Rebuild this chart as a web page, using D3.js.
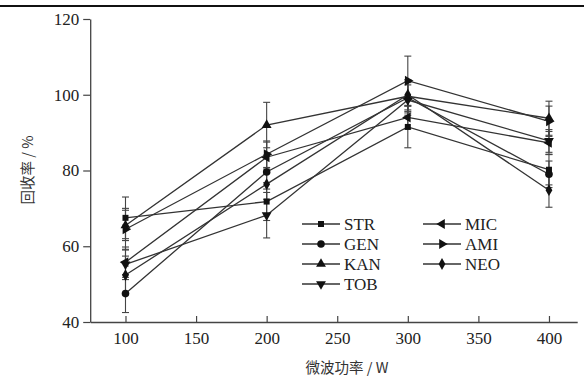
<!DOCTYPE html>
<html>
<head>
<meta charset="utf-8">
<script src="https://cdn.jsdelivr.net/npm/d3@7"></script>
<style>
  body { margin: 0; background: #fff; }
</style>
</head>
<body>
<div id="chart"></div>
<script>
// potência de micro-ondas (eixo x)
var powers = [100, 200, 300, 400];
var xTicks = [100, 150, 200, 250, 300, 350, 400];
var yTicks = [40, 60, 80, 100, 120];

// taxa de recuperação (%) e desvio de cada antibiótico
var names = ["STR", "GEN", "KAN", "TOB", "MIC", "AMI", "NEO"];
var STR = [67.5, 71.8, 91.5, 80.2];
var GEN = [47.5, 79.6, 99.2, 79.0];
var KAN = [65.5, 92.0, 99.6, 93.8];
var TOB = [55.2, 68.2, 98.6, 87.8];
var MIC = [55.8, 83.5, 94.0, 87.3];
var AMI = [64.5, 84.3, 103.7, 93.0];
var NEO = [52.4, 76.4, 100.0, 74.8];

var STR_err = [5.5, 5.0, 5.5, 4.0];
var GEN_err = [5.0, 4.5, 4.0, 3.5];
var KAN_err = [4.0, 6.0, 4.0, 4.5];
var TOB_err = [4.0, 6.0, 4.0, 3.0];
var MIC_err = [4.0, 4.0, 3.0, 3.0];
var AMI_err = [5.5, 3.5, 6.5, 4.0];
var NEO_err = [5.0, 4.0, 4.0, 4.5];

var values = [STR, GEN, KAN, TOB, MIC, AMI, NEO];
var errors = [STR_err, GEN_err, KAN_err, TOB_err, MIC_err, AMI_err, NEO_err];

var W = 584, H = 378;
var serif = "'Liberation Serif', 'Times New Roman', 'DejaVu Serif', serif";
var cjk = "'Noto Sans CJK SC', sans-serif";

var svg = d3.select("#chart")
  .append("svg")
  .attr("width", W)
  .attr("height", H);

// linha preta no topo
svg.append("line")
  .attr("x1", 0).attr("x2", W)
  .attr("y1", 6).attr("y2", 6)
  .attr("stroke", "#111")
  .attr("stroke-width", 2);

var x = d3.scaleLinear().domain([75, 420]).range([90.2, 577.2]);
var y = d3.scaleLinear().domain([40, 120]).range([322, 19]);

// eixo x (ticks para dentro)
var gx = svg.append("g")
  .attr("transform", "translate(0,322)")
  .call(d3.axisBottom(x).tickValues(xTicks).tickSize(-6).tickPadding(16).tickSizeOuter(0));
gx.select(".domain").attr("stroke", "#444").attr("stroke-width", 1.3);
gx.selectAll(".tick line").attr("stroke", "#444").attr("stroke-width", 1.2);
gx.selectAll(".tick text").attr("font-size", 17).attr("font-family", serif)
  .attr("fill", "#222").attr("dy", "0.35em");

// eixo y
var gy = svg.append("g")
  .attr("transform", "translate(" + x(75) + ",0)")
  .call(d3.axisLeft(y).tickValues(yTicks).tickSize(7).tickPadding(4).tickSizeOuter(0));
gy.select(".domain").attr("stroke", "#444").attr("stroke-width", 1.3);
gy.selectAll(".tick line").attr("stroke", "#444").attr("stroke-width", 1.2);
gy.selectAll(".tick text").attr("font-size", 17).attr("font-family", serif).attr("fill", "#222");

svg.append("text")
  .attr("font-family", cjk)
  .attr("fill", "#333")
  .attr("transform", "translate(33,170) rotate(-90)")
  .attr("text-anchor", "middle")
  .attr("font-size", 14.5)
  .text("回收率 / %");

svg.append("text")
  .attr("font-family", cjk)
  .attr("fill", "#333")
  .attr("x", 347).attr("y", 373)
  .attr("text-anchor", "middle")
  .attr("font-size", 14.5)
  .text("微波功率 / W");

// marcadores
var shapes = [
  { t: d3.symbolSquare, s: 36, r: 0 },
  { t: d3.symbolCircle, s: 45, r: 0 },
  { t: d3.symbolTriangle, s: 42, r: 0 },
  { t: d3.symbolTriangle, s: 42, r: 180 },
  { t: d3.symbolTriangle, s: 42, r: -90 },
  { t: d3.symbolTriangle, s: 42, r: 90 },
  { t: d3.symbolDiamond, s: 40, r: 0 }
];
function sym(i) { return d3.symbol().type(shapes[i].t).size(shapes[i].s)(); }

var line = d3.line()
  .x(function(d, i) { return x(powers[i]); })
  .y(function(d) { return y(d); });

// barras de erro
values.forEach(function(vals, k) {
  var g = svg.append("g");
  vals.forEach(function(v, i) {
    var e = errors[k][i], px = x(powers[i]);
    g.append("line").attr("x1", px).attr("x2", px)
      .attr("y1", y(v - e)).attr("y2", y(v + e))
      .attr("stroke", "#444").attr("stroke-width", 1.1);
    [v - e, v + e].forEach(function(c) {
      g.append("line").attr("x1", px - 3.5).attr("x2", px + 3.5)
        .attr("y1", y(c)).attr("y2", y(c))
        .attr("stroke", "#444").attr("stroke-width", 1.1);
    });
  });
});

values.forEach(function(vals, k) {
  svg.append("path")
    .datum(vals)
    .attr("d", line)
    .attr("fill", "none")
    .attr("stroke", "#333")
    .attr("stroke-width", 1.3);
  svg.selectAll(".m" + k)
    .data(vals)
    .enter()
    .append("path")
    .attr("d", sym(k))
    .attr("transform", function(d, i) {
      return "translate(" + x(powers[i]) + "," + y(d) + ") rotate(" + shapes[k].r + ")";
    })
    .attr("fill", "#111");
});

// legenda
var legPos = [
  [302, 224], [302, 244], [302, 264], [302, 284],
  [423, 224], [423, 244], [423, 264]
];
names.forEach(function(n, k) {
  var p = legPos[k];
  var g = svg.append("g").attr("transform", "translate(" + p[0] + "," + p[1] + ")");
  g.append("line").attr("x1", 0).attr("x2", 38).attr("y1", 0).attr("y2", 0)
    .attr("stroke", "#333").attr("stroke-width", 1.3);
  g.append("path").attr("d", sym(k))
    .attr("transform", "translate(19,0) rotate(" + shapes[k].r + ")")
    .attr("fill", "#111");
  g.append("text").attr("x", 42).attr("y", 6)
    .attr("font-family", serif)
    .attr("fill", "#222")
    .attr("font-size", 17)
    .text(n);
});
</script>
</body>
</html>
